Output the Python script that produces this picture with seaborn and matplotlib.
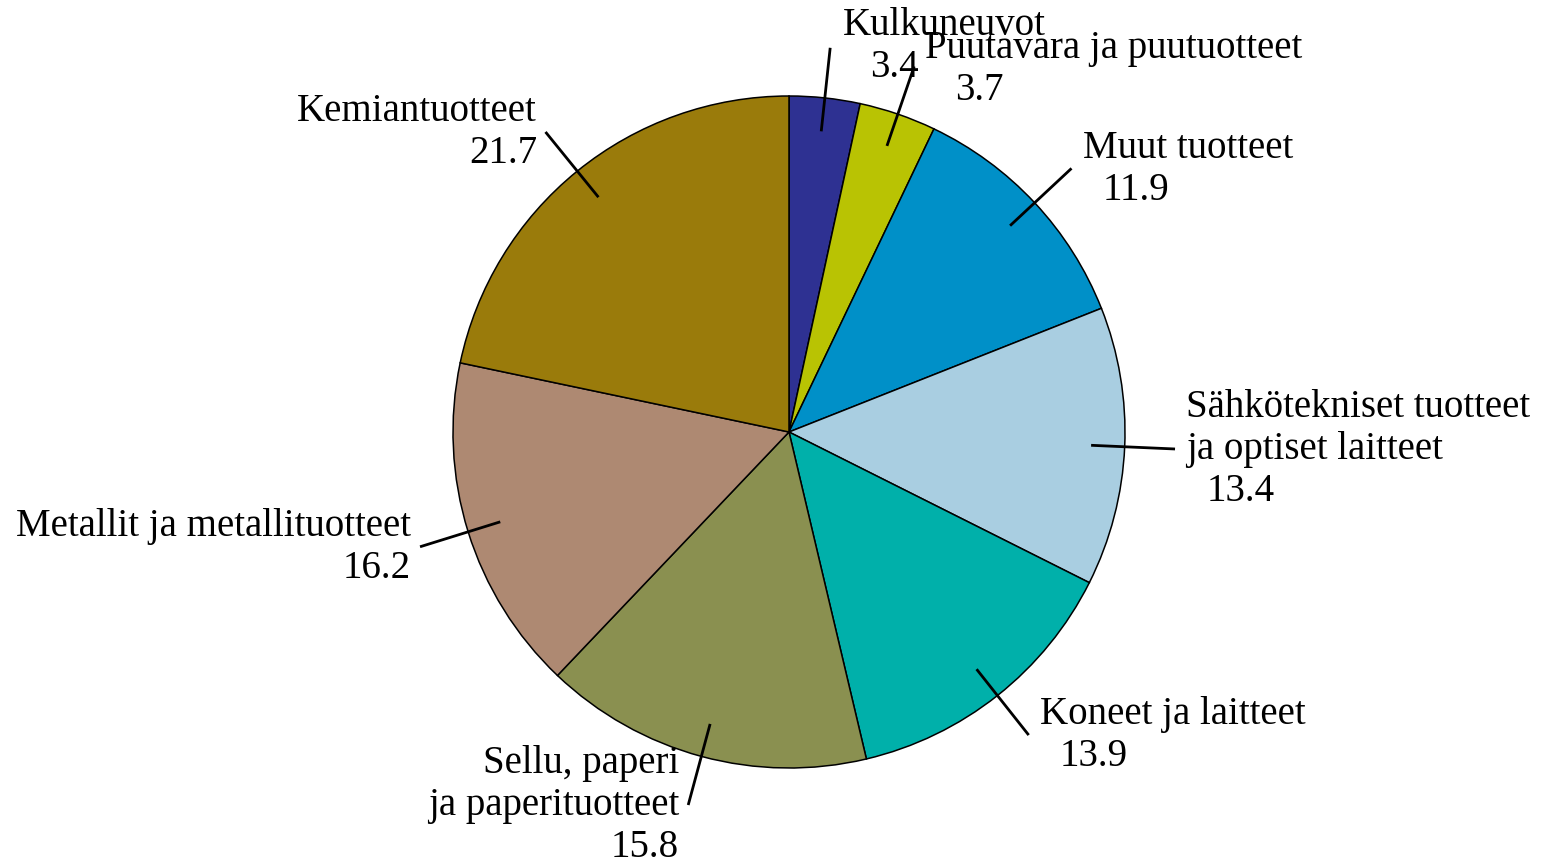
import matplotlib
matplotlib.use("Agg")
import matplotlib.pyplot as plt
import seaborn as sns
import numpy as np

# ---- data ----
categories = ["Kulkuneuvot", "Puutavara ja puutuotteet", "Muut tuotteet",
              "Sähkötekniset tuotteet\nja optiset laitteet", "Koneet ja laitteet",
              "Sellu, paperi\nja paperituotteet", "Metallit ja metallituotteet",
              "Kemiantuotteet"]
values = [3.4, 3.7, 11.9, 13.4, 13.9, 15.8, 16.2, 21.7]
colors = ["#2E3192", "#B9C303", "#0090C8", "#A9CEE1", "#00B0AA",
          "#8A9050", "#AE8972", "#9A7B0B"]

# ---- layout (pixel frame) ----
W, H = 1541, 859
CX, CY, R = 789, 432, 336
# (x, first-line center y, ha, value x)
label_layout = [
    (843, 22, "left", 870),
    (925, 45, "left", 955),
    (1083, 145, "left", 1103),
    (1186, 404, "left", 1207),
    (1040, 711, "left", 1060),
    (679, 760, "right", 679),
    (411, 523, "right", 411),
    (537, 108, "right", 537),
]
LINE = 42
FS = 28

sns.set_theme(style="white")
plt.rcParams["font.family"] = ["Liberation Serif", "DejaVu Serif"]

fig = plt.figure(figsize=(W / 100, H / 100), dpi=100)
ax = fig.add_axes([0, 0, 1, 1])

wedges, _ = ax.pie(values, colors=colors, startangle=-90, counterclock=True,
                   center=(CX, CY), radius=R,
                   wedgeprops=dict(edgecolor="black", linewidth=1.1))
ax.set_xlim(0, W)
ax.set_ylim(H, 0)
ax.set_aspect("equal")
ax.axis("off")

for w, name, val, (lx, ly, ha, vx) in zip(wedges, categories, values, label_layout):
    ang = np.deg2rad((w.theta1 + w.theta2) / 2)
    x0, y0 = CX + 0.9 * R * np.cos(ang), CY + 0.9 * R * np.sin(ang)
    x1, y1 = CX + 1.15 * R * np.cos(ang), CY + 1.15 * R * np.sin(ang)
    ax.plot([x0, x1], [y0, y1], color="black", lw=2, solid_capstyle="butt")
    lines = name.split("\n")
    for i, ln in enumerate(lines):
        ax.text(lx, ly + 13 + i * LINE, ln, ha=ha, va="baseline", fontsize=FS,
                color="black")
    ax.text(vx, ly + 13 + len(lines) * LINE, f"{val:.1f}", ha=ha, va="baseline",
            fontsize=FS, color="black")

fig.savefig("out.png", dpi=100, facecolor="white")
